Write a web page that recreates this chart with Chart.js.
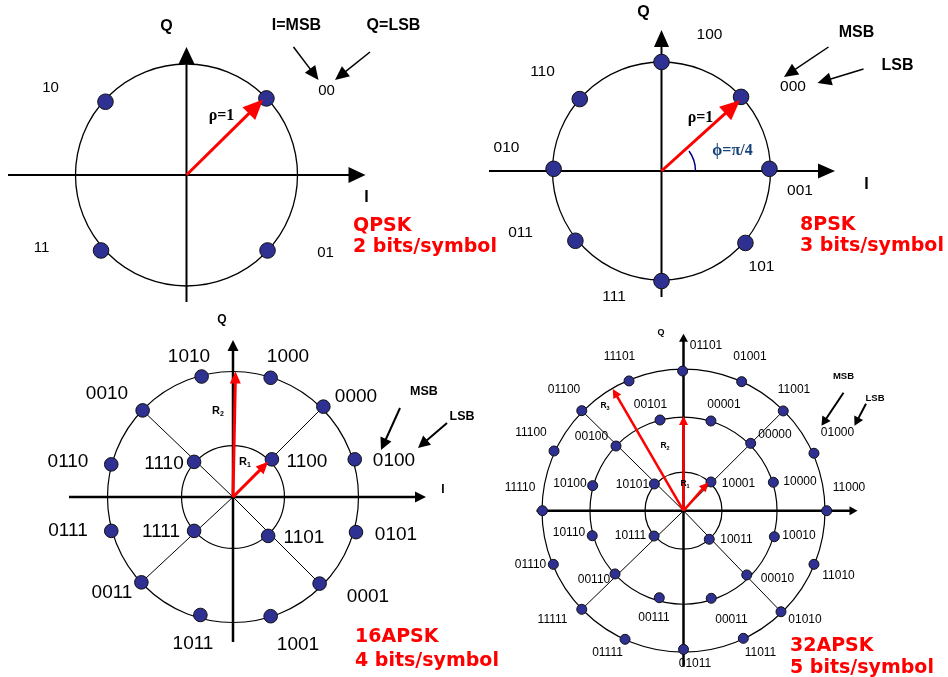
<!DOCTYPE html>
<html><head><meta charset="utf-8">
<script src="https://cdn.jsdelivr.net/npm/chart.js@4/dist/chart.umd.min.js"></script>
<style>
html,body{margin:0;padding:0;background:#fff;overflow:hidden}
#wrap{position:relative;width:948px;height:677px;background:#fff}
#wrap canvas{position:absolute;left:0;top:0;width:948px;height:677px}
</style></head>
<body><div id="wrap">
<canvas id="c0" width="948" height="677"></canvas>
<canvas id="c1" width="948" height="677"></canvas>
<canvas id="c2" width="948" height="677"></canvas>
<canvas id="c3" width="948" height="677"></canvas>
</div>
<script>
// ================= DATA =================
// QPSK
const qpskLabels = ['00','10','11','01'];
const qpskI = [0.72,-0.73,-0.77,0.73];
const qpskQ = [0.69,0.66,-0.68,-0.68];
const qpskRings = [1.0];
const qpskVecI = [0.69];
const qpskVecQ = [0.68];
const qpskTitle = ['QPSK','2 bits/symbol'];

// 8PSK
const psk8Labels = ['100','000','001','101','111','011','010','110'];
const psk8I = [0.00,0.73,0.99,0.77,0.00,-0.79,-0.99,-0.75];
const psk8Q = [1.00,0.68,0.02,-0.66,-1.01,-0.64,0.02,0.66];
const psk8Rings = [1.0];
const psk8VecI = [0.72];
const psk8VecQ = [0.65];
const psk8Title = ['8PSK','3 bits/symbol'];

// 16APSK
const apsk16Labels = ['1100','1110','1111','1101','1000','1010','0010','0000','0110','0100','0111','0101','0011','0001','1011','1001'];
const apsk16I = [0.31,-0.31,-0.31,0.28,0.30,-0.25,-0.72,0.72,-0.97,0.97,-0.97,0.98,-0.73,0.69,-0.26,0.30];
const apsk16Q = [0.30,0.28,-0.27,-0.31,0.95,0.96,0.69,0.72,0.26,0.30,-0.27,-0.28,-0.68,-0.69,-0.94,-0.95];
const apsk16Rings = [0.41,1.0];
const apsk16Spokes = ['0000','0010','0011','0001'];
const apsk16VecI = [0.02,0.28];
const apsk16VecQ = [1.00,0.28];
const apsk16Title = ['16APSK','4 bits/symbol'];

// 32APSK
const apsk32Labels = ['10001','10101','10111','10011',
  '00001','00101','00000','00100','10000','10100','10010','10110','00010','00110','00011','00111',
  '01101','01001','11001','01000','11000','11010','01010','11011','01011','01111','11111','01110','11110','11100','01100','11101'];
const apsk32I = [0.194,-0.206,-0.208,0.182,
  0.194,-0.166,0.475,-0.477,0.635,-0.642,0.642,-0.645,0.447,-0.484,0.196,-0.171,
  -0.006,0.411,0.705,0.922,1.012,0.922,0.689,0.423,0.000,-0.413,-0.719,-0.920,-0.997,-0.915,-0.719,-0.385];
const apsk32Q = [0.203,0.189,-0.179,-0.202,
  0.634,0.641,0.476,0.457,0.201,0.177,-0.184,-0.177,-0.454,-0.447,-0.619,-0.615,
  0.987,0.912,0.705,0.406,0.000,-0.379,-0.714,-0.902,-0.980,-0.909,-0.697,-0.379,0.000,0.422,0.707,0.917];
const apsk32Rings = [0.272,0.661,1.0];
const apsk32Spokes = ['11001','01100','11111','01010'];
const apsk32VecI = [-0.50,0.00,0.175];
const apsk32VecQ = [0.86,0.67,0.20];
const apsk32Title = ['32APSK','5 bits/symbol'];

// ================= STYLE / LAYOUT =================
const SANS = '"Liberation Sans", Arial, sans-serif';
const SERIF = '"Liberation Serif", "Times New Roman", serif';
const DOT = '#2e3192';
const RED = '#ff0000';
const TITLE_FONT = 'bold 19px "DejaVu Sans", Verdana, sans-serif';

const layouts = [
 { canvas:'c0', labels:qpskLabels, I:qpskI, Q:qpskQ, rings:qpskRings, spokes:[], vecI:qpskVecI, vecQ:qpskVecQ, title:qpskTitle,
   cx:186.5, cy:175, unit:111, dot:7.8, ringW:1.3,
   labelFont:'15px '+SANS,
   axis:{x0:-178.5,x1:179,y0:127,y1:-128,w:2,hl:17,hw:8},
   vec:{w:3,hl:20,hw:9},
   labelOff:{'00':[140,-84],'10':[-136,-87],'11':[-145,73],'01':[139,78]},
   texts:[{t:'Q',x:-20,y:-148,f:'bold 16px '+SANS},{t:'I=MSB',x:110,y:-149,f:'bold 16px '+SANS},
          {t:'Q=LSB',x:207,y:-149,f:'bold 16px '+SANS},{t:'I',x:180,y:23,f:'bold 16px '+SANS},
          {t:'\u03c1=1',x:35,y:-59,f:'bold 16px '+SERIF}],
   pointers:[[107,-128,132,-95],[183.5,-123,148.5,-95]], pointer:{w:1.5,hl:14,hw:6.5},
   titleX:166.5, titleY:[56,77] },
 { canvas:'c1', labels:psk8Labels, I:psk8I, Q:psk8Q, rings:psk8Rings, spokes:[], vecI:psk8VecI, vecQ:psk8VecQ, title:psk8Title,
   cx:661.5, cy:171, unit:109, dot:7.8, ringW:1.3,
   labelFont:'15.5px '+SANS,
   axis:{x0:-172.5,x1:173.5,y0:126,y1:-141,w:2,hl:17,hw:7.5},
   vec:{w:3,hl:20,hw:9},
   labelOff:{'100':[48,-136],'110':[-119,-99],'010':[-155,-23],'011':[-141,62],'111':[-47.5,126],'101':[100,96],'001':[138.5,20],'000':[131.5,-84]},
   texts:[{t:'Q',x:-18,y:-158,f:'bold 16px '+SANS},{t:'MSB',x:195,y:-138,f:'bold 16px '+SANS},
          {t:'LSB',x:236,y:-105,f:'bold 16px '+SANS},{t:'I',x:205,y:14,f:'bold 16px '+SANS},
          {t:'\u03c1=1',x:39,y:-53,f:'bold 16px '+SERIF},
          {t:'\u03d5=\u03c0/4',x:71,y:-20,f:'bold 16px '+SERIF,c:'#15407a'}],
   arc:{r:34,deg:36,c:'#000080',w:1.5},
   pointers:[[167,-124,122.5,-94],[202,-102,156,-88]], pointer:{w:1.5,hl:14,hw:6.5},
   titleX:138.5, titleY:[59,80] },
 { canvas:'c2', labels:apsk16Labels, I:apsk16I, Q:apsk16Q, rings:apsk16Rings, spokes:apsk16Spokes, vecI:apsk16VecI, vecQ:apsk16VecQ, title:apsk16Title,
   cx:233, cy:497, unit:125.5, dot:6.8, ringW:1.2,
   labelFont:'19px '+SANS,
   axis:{x0:-164,x1:193,y0:145,y1:-157,w:2.5,hl:11,hw:5.5},
   vec:{w:3,hl:12,hw:5.5},
   labelOff:{'1010':[-44,-140],'1000':[55,-140],'0010':[-126,-103],'0000':[123,-100],'0110':[-165,-35],'1110':[-69,-33],
     '1100':[74,-35],'0100':[161,-36],'0111':[-165,34],'1111':[-72,35],'1101':[71,41],'0101':[163,38],
     '0011':[-121,96],'0001':[135,100],'1011':[-40,147],'1001':[65,148]},
   texts:[{t:'Q',x:-11,y:-177,f:'bold 12px '+SANS},{t:'I',x:210,y:-7,f:'bold 12px '+SANS},
          {t:'MSB',x:191,y:-105,f:'bold 12.5px '+SANS},{t:'LSB',x:229,y:-80,f:'bold 12.5px '+SANS},
          {t:'R',s:'2',x:-15,y:-86,f:'bold 11px '+SANS,sf:'bold 7px '+SANS},
          {t:'R',s:'1',x:12,y:-35,f:'bold 11px '+SANS,sf:'bold 7px '+SANS}],
   pointers:[[167,-89,148,-47],[214,-74,185,-49]], pointer:{w:2,hl:12,hw:6},
   titleX:122, titleY:[145,169] },
 { canvas:'c3', labels:apsk32Labels, I:apsk32I, Q:apsk32Q, rings:apsk32Rings, spokes:apsk32Spokes, vecI:apsk32VecI, vecQ:apsk32VecQ, title:apsk32Title,
   cx:683.5, cy:510.7, unit:141.5, dot:5, ringW:1.2,
   labelFont:'12px '+SANS,
   axis:{x0:-147,x1:174,y0:156,y1:-177,w:2.5,hl:8,hw:4.5},
   vec:{w:2.5,hl:9,hw:4.5},
   labelOff:{'01101':[22.5,-165],'11101':[-64,-154],'01001':[66.5,-154],'01100':[-119.5,-121],'11001':[110.5,-121],
     '00101':[-33,-106],'00001':[40.5,-106],'11100':[-152.5,-78],'00100':[-92,-74],'00000':[91.5,-76],'01000':[154,-78],
     '11110':[-163.5,-23],'10100':[-113.5,-27],'10101':[-51,-26],'10001':[55,-27],'10000':[116.5,-29],'11000':[165.5,-23],
     '10110':[-114.5,22],'10111':[-53,25],'10011':[53,29],'10010':[115.5,25],'01110':[-153,54],'11010':[155,65],
     '00110':[-89.5,69],'00010':[94,68],'11111':[-131,109],'00111':[-29.5,107],'00011':[48,109],'01010':[121.5,109],
     '01111':[-76,142],'11011':[77,142],'01011':[11.5,153]},
   texts:[{t:'Q',x:-22.5,y:-178,f:'bold 9px '+SANS},
          {t:'MSB',x:160,y:-134,f:'bold 9.5px '+SANS},{t:'LSB',x:191.5,y:-112,f:'bold 9.5px '+SANS},
          {t:'R',s:'3',x:-78.5,y:-105,f:'bold 8.5px '+SANS,sf:'bold 5.5px '+SANS},
          {t:'R',s:'2',x:-18.5,y:-65,f:'bold 8.5px '+SANS,sf:'bold 5.5px '+SANS},
          {t:'R',s:'1',x:1.5,y:-27,f:'bold 8.5px '+SANS,sf:'bold 5.5px '+SANS}],
   pointers:[[160,-118,138,-85],[182.5,-107,171,-85]], pointer:{w:2,hl:9,hw:5},
   titleX:106.5, titleY:[140,162] }
];

// ================= DRAWING HELPERS =================
function arrow(ctx,x1,y1,x2,y2,lw,hl,hw,color){
  const dx=x2-x1, dy=y2-y1, L=Math.hypot(dx,dy); if(!L) return;
  const ux=dx/L, uy=dy/L, bx=x2-ux*hl, by=y2-uy*hl;
  ctx.save(); ctx.strokeStyle=color; ctx.fillStyle=color; ctx.lineWidth=lw; ctx.lineCap='butt';
  ctx.beginPath(); ctx.moveTo(x1,y1); ctx.lineTo(bx+ux,by+uy); ctx.stroke();
  ctx.beginPath(); ctx.moveTo(x2,y2); ctx.lineTo(bx-uy*hw,by+ux*hw); ctx.lineTo(bx+uy*hw,by-ux*hw); ctx.closePath(); ctx.fill();
  ctx.restore();
}

function makePlugin(L){
  return {
    id:'constellation_'+L.canvas,
    beforeDatasetsDraw(chart){
      const ctx=chart.ctx, xs=chart.scales.x, ys=chart.scales.y;
      const ox=xs.getPixelForValue(0), oy=ys.getPixelForValue(0);
      const u=xs.getPixelForValue(1)-ox;
      ctx.save();
      ctx.strokeStyle='#000'; ctx.lineWidth=L.ringW;
      L.rings.forEach(r=>{ ctx.beginPath(); ctx.arc(ox,oy,r*u,0,Math.PI*2); ctx.stroke(); });
      ctx.lineWidth=1;
      const meta=chart.getDatasetMeta(0);
      L.spokes.forEach(lab=>{
        const i=L.labels.indexOf(lab); const el=meta.data[i];
        ctx.beginPath(); ctx.moveTo(ox,oy); ctx.lineTo(el.x,el.y); ctx.stroke();
      });
      ctx.restore();
      const a=L.axis;
      arrow(ctx,ox+a.x0,oy,ox+a.x1,oy,a.w,a.hl,a.hw,'#000');
      arrow(ctx,ox,oy+a.y0,ox,oy+a.y1,a.w,a.hl,a.hw,'#000');
    },
    afterDatasetsDraw(chart){
      const ctx=chart.ctx, xs=chart.scales.x, ys=chart.scales.y;
      const ox=xs.getPixelForValue(0), oy=ys.getPixelForValue(0);
      if(L.arc){
        ctx.save(); ctx.strokeStyle=L.arc.c; ctx.lineWidth=L.arc.w;
        ctx.beginPath(); ctx.arc(ox,oy,L.arc.r,-L.arc.deg*Math.PI/180,0); ctx.stroke(); ctx.restore();
      }
      L.vecI.forEach((vx,i)=>{
        arrow(ctx,ox,oy,xs.getPixelForValue(vx),ys.getPixelForValue(L.vecQ[i]),L.vec.w,L.vec.hl,L.vec.hw,RED);
      });
      ctx.save();
      ctx.textAlign='center'; ctx.textBaseline='middle'; ctx.fillStyle='#000'; ctx.font=L.labelFont;
      L.labels.forEach(lab=>{ const o=L.labelOff[lab]; if(o) ctx.fillText(lab,ox+o[0],oy+o[1]); });
      L.texts.forEach(t=>{
        ctx.fillStyle=t.c||'#000';
        if(t.s){
          ctx.font=t.f; const w1=ctx.measureText(t.t).width;
          ctx.font=t.sf; const w2=ctx.measureText(t.s).width;
          const x0=ox+t.x-(w1+w2)/2;
          ctx.textAlign='left';
          ctx.font=t.f; ctx.fillText(t.t,x0,oy+t.y);
          ctx.font=t.sf; ctx.fillText(t.s,x0+w1,oy+t.y+3);
          ctx.textAlign='center';
        } else {
          ctx.font=t.f; ctx.fillText(t.t,ox+t.x,oy+t.y);
        }
      });
      ctx.restore();
      L.pointers.forEach(p=>arrow(ctx,ox+p[0],oy+p[1],ox+p[2],oy+p[3],L.pointer.w,L.pointer.hl,L.pointer.hw,'#000'));
      ctx.save(); ctx.fillStyle=RED; ctx.font=TITLE_FONT; ctx.textAlign='left'; ctx.textBaseline='alphabetic';
      L.title.forEach((s,i)=>ctx.fillText(s,ox+L.titleX,oy+L.titleY[i]));
      ctx.restore();
    }
  };
}

const W=948, H=677;
layouts.forEach(L=>{
  const pts=L.I.map((x,i)=>({x:x,y:L.Q[i]}));
  new Chart(document.getElementById(L.canvas),{
    type:'scatter',
    data:{ datasets:[{ data:pts, pointRadius:L.dot, pointHoverRadius:L.dot,
      backgroundColor:DOT, borderColor:'#111', borderWidth:1, clip:false }] },
    options:{
      responsive:false, animation:false, events:[], devicePixelRatio:1,
      layout:{padding:0, autoPadding:false},
      plugins:{legend:{display:false}, tooltip:{enabled:false}, title:{display:false}},
      scales:{
        x:{type:'linear', display:false, min:-L.cx/L.unit, max:(W-L.cx)/L.unit},
        y:{type:'linear', display:false, min:-(H-L.cy)/L.unit, max:L.cy/L.unit}
      }
    },
    plugins:[makePlugin(L)]
  });
});
</script>
</body></html>
